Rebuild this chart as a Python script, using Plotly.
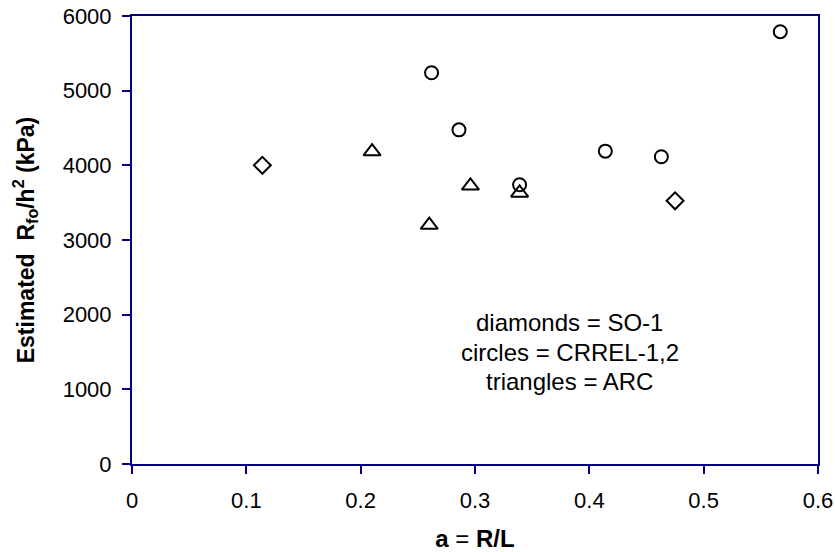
import plotly.graph_objects as go

# SO-1 (diamonds)
so1_x = [0.114, 0.475]
so1_y = [4000, 3525]
# CRREL-1,2 (circles)
crrel_x = [0.262, 0.286, 0.339, 0.414, 0.463, 0.567]
crrel_y = [5240, 4475, 3740, 4190, 4115, 5790]
# ARC (triangles)
arc_x = [0.210, 0.260, 0.296, 0.339]
arc_y = [4185, 3200, 3725, 3630]

x_ticks = [0, 0.1, 0.2, 0.3, 0.4, 0.5, 0.6]
x_ticklabels = ["0", "0.1", "0.2", "0.3", "0.4", "0.5", "0.6"]
y_ticks = [0, 1000, 2000, 3000, 4000, 5000, 6000]

note_lines = ["diamonds = SO-1", "circles = CRREL-1,2", "triangles = ARC"]
note_y = [1900, 1500, 1100]
note_x = 0.383

FONT = "Liberation Sans, Arial, sans-serif"
NAVY = "#000080"

fig = go.Figure()
fig.add_trace(go.Scatter(x=so1_x, y=so1_y, mode="markers",
                         marker=dict(symbol="diamond-open", size=13, line=dict(color="black", width=2), color="black")))
fig.add_trace(go.Scatter(x=crrel_x, y=crrel_y, mode="markers",
                         marker=dict(symbol="circle-open", size=13, line=dict(color="black", width=2), color="black")))
fig.add_trace(go.Scatter(x=arc_x, y=arc_y, mode="markers",
                         marker=dict(symbol="triangle-up-open", size=15, line=dict(color="black", width=2), color="black")))

for txt, yy in zip(note_lines, note_y):
    fig.add_annotation(x=note_x, y=yy, xref="x", yref="y", text=txt, showarrow=False,
                       font=dict(family=FONT, size=24, color="black"), align="center")

fig.update_layout(
    width=835, height=552,
    margin=dict(l=132, r=17, t=16, b=88, autoexpand=False),
    paper_bgcolor="white", plot_bgcolor="white",
    showlegend=False,
    font=dict(family=FONT, size=22, color="black"),
    xaxis=dict(range=[0, 0.6], tickvals=x_ticks, ticktext=x_ticklabels,
               showgrid=False, zeroline=False, showline=True, mirror=True,
               linecolor=NAVY, linewidth=2, ticks="outside", ticklen=8,
               tickcolor=NAVY, tickwidth=2, automargin=False, ticklabelstandoff=8,
               title=dict(text="<b>a</b> = <b>R/L</b>", font=dict(size=24), standoff=18)),
    yaxis=dict(range=[0, 6000], tickvals=y_ticks,
               showgrid=False, zeroline=False, showline=True, mirror=True,
               linecolor=NAVY, linewidth=2, ticks="outside", ticklen=8,
               tickcolor=NAVY, tickwidth=2, automargin=False, ticklabelstandoff=6,
               title=dict(text="<b>Estimated\u00a0\u00a0R<sub>fo</sub>/h<sup>2</sup>\u00a0(kPa)</b>",
                          font=dict(size=23), standoff=22)),
)

fig.write_html("out.html")
